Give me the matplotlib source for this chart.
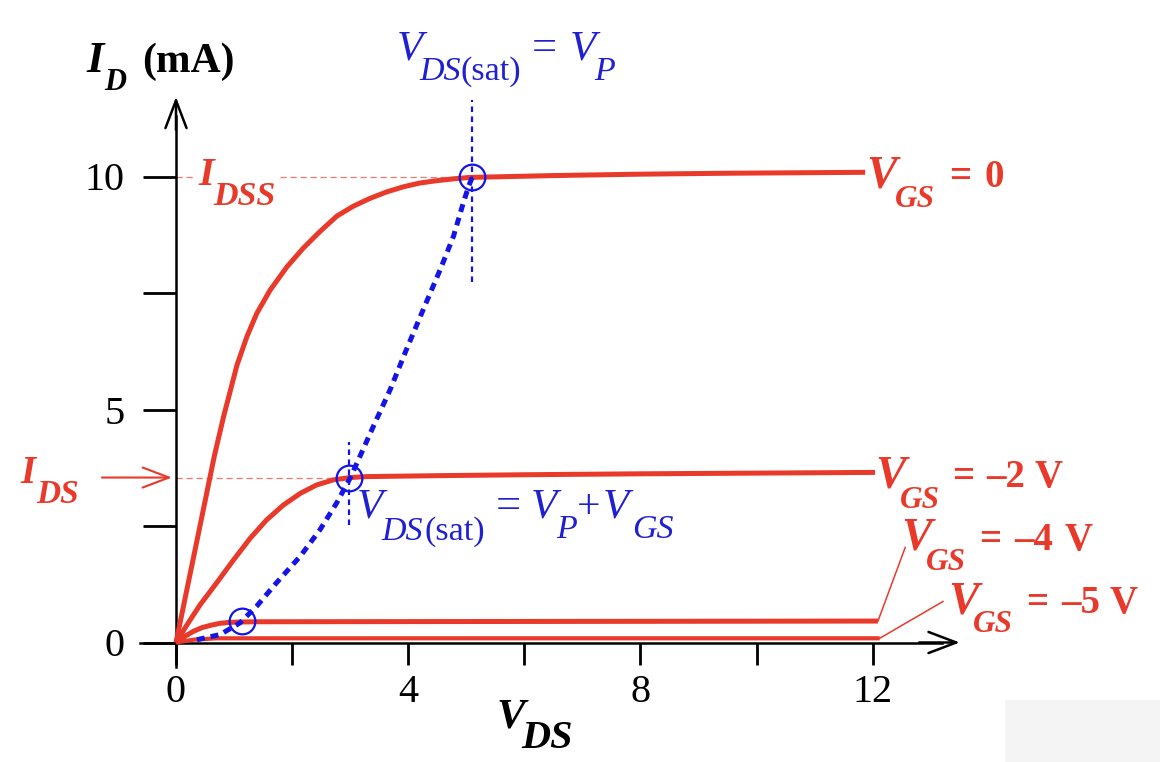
import matplotlib
matplotlib.use("Agg")
import matplotlib.pyplot as plt
from matplotlib.transforms import IdentityTransform
from matplotlib.patches import Rectangle

# ---------------- data ----------------
# V_GS = 0 V
vds_0 = [0, 0.38, 0.66, 0.82, 1.05, 1.22, 1.39, 1.62, 1.91, 2.19, 2.48, 2.77,
         3.05, 3.34, 3.63, 3.92, 4.20, 4.49, 4.78, 5.06, 6.5, 8.0, 9.5, 11.87]
id_0 = [0, 2.30, 4.00, 4.85, 5.95, 6.56, 7.06, 7.56, 8.06, 8.46, 8.82, 9.15,
        9.36, 9.53, 9.67, 9.78, 9.86, 9.91, 9.95, 9.98, 10.02, 10.05, 10.07, 10.09]
# V_GS = -2 V
vds_2 = [0, 0.20, 0.41, 0.70, 0.99, 1.28, 1.56, 1.85, 2.14, 2.42, 2.71, 3.00, 3.28,
         4.5, 6.0, 8.0, 10.0, 12.04]
id_2 = [0, 0.40, 0.80, 1.28, 1.77, 2.24, 2.63, 2.95, 3.20, 3.38, 3.49, 3.54, 3.56,
        3.58, 3.60, 3.62, 3.635, 3.65]
# V_GS = -4 V
vds_4 = [0, 0.15, 0.30, 0.45, 0.60, 0.75, 0.90, 1.10, 1.40, 12.09]
id_4 = [0, 0.13, 0.24, 0.32, 0.37, 0.41, 0.43, 0.44, 0.445, 0.46]
# V_GS = -5 V
vds_5 = [0, 0.30, 0.70, 12.12]
id_5 = [0, 0.06, 0.09, 0.09]
# saturation locus V_DS(sat) = V_P + V_GS
locus_vds = [0.36, 0.76, 1.10, 1.39, 1.73, 2.14, 2.48, 2.77, 3.00, 3.17, 3.40, 3.69,
             3.97, 4.26, 4.55, 4.78, 4.95, 5.04, 5.10]
locus_id = [0.06, 0.17, 0.42, 0.78, 1.28, 1.85, 2.42, 3.00, 3.53, 4.00, 4.64, 5.43,
            6.29, 7.15, 8.00, 8.72, 9.44, 9.79, 9.98]
# saturation points (V_GS = 0, -2, -4)
sat_vds = [5.10, 2.98, 1.13]
sat_id = [9.98, 3.54, 0.46]

x_ticks = [0, 2, 4, 6, 8, 10, 12]
x_ticklabels = ["0", "", "4", "", "8", "", "12"]
y_ticks = [0, 2.5, 5, 7.5, 10]
y_ticklabels = ["0", "", "5", "", "10"]

# ---------------- styling ----------------
RED = "#E8392A"
LRED = "#F07A70"
BLUE = "#1414E6"
TBLUE = "#2020D0"
SERIF = "Liberation Serif"

W, H = 1160, 762
fig = plt.figure(figsize=(W / 100, H / 100), dpi=100)
fig.patch.set_facecolor("white")
ax = fig.add_axes([0, 0, 1, 1])
ax.patch.set_alpha(0)

x0px, y0px = 176.0, 642.5
sx, sy = 58.06, 46.6
ax.set_xlim(-x0px / sx, (W - x0px) / sx)
ax.set_ylim(-(H - y0px) / sy, y0px / sy)

# faint grey patch at bottom right (slide artefact)
fig.patches.append(Rectangle((1005, 0), 155, 62, transform=IdentityTransform(),
                             facecolor="#f4f4f4", edgecolor="none", zorder=0))

# axes as arrows
for s in ["top", "right"]:
    ax.spines[s].set_visible(False)
ax.spines["left"].set_position(("data", 0))
ax.spines["bottom"].set_position(("data", 0))
ax.spines["left"].set_bounds(-0.52, 11.3)
ax.spines["bottom"].set_bounds(-0.62, 13.2)
for s in ["left", "bottom"]:
    ax.spines[s].set_linewidth(1.8)
    ax.spines[s].set_color("black")

arrow_head = "->,head_length=1.0,head_width=0.38"
ax.annotate("", xy=(0, 11.71), xytext=(0, 11.0),
            arrowprops=dict(arrowstyle=arrow_head, lw=1.8, color="black",
                            mutation_scale=20, shrinkA=0, shrinkB=0))
ax.annotate("", xy=(13.50, 0), xytext=(12.8, 0),
            arrowprops=dict(arrowstyle=arrow_head, lw=1.8, color="black",
                            mutation_scale=20, shrinkA=0, shrinkB=0))

ax.set_xticks(x_ticks)
ax.set_xticklabels(x_ticklabels)
ax.set_yticks(y_ticks)
ax.set_yticklabels(y_ticklabels)
ax.tick_params(axis="x", direction="out", length=15.8, width=2.0, pad=7,
               labelsize=29, colors="black")
ax.tick_params(axis="y", direction="out", length=23.8, width=2.0, pad=13,
               labelsize=29, colors="black")
for lab in ax.get_xticklabels() + ax.get_yticklabels():
    lab.set_family(SERIF)

# reference dashed lines
ax.plot([0, 0.33], [sat_id[0], sat_id[0]], color=LRED, lw=0.9, ls=(0, (5, 3)), zorder=2)
ax.plot([1.79, 4.90], [sat_id[0], sat_id[0]], color=LRED, lw=0.9, ls=(0, (5, 3)), zorder=2)
ax.plot([0, 2.80], [sat_id[1], sat_id[1]], color=LRED, lw=0.9, ls=(0, (5, 3)), zorder=2)

# curves
for xs, ys, w in [(vds_0, id_0, 3.6), (vds_2, id_2, 3.6), (vds_4, id_4, 3.6), (vds_5, id_5, 3.0)]:
    ax.plot(xs, ys, color=RED, lw=w, solid_capstyle="butt", solid_joinstyle="round", zorder=3)

# leader lines for V_GS = -4 and -5 labels
ax.plot([vds_4[-1], 12.56], [id_4[-1], 2.04], color=RED, lw=1.1, zorder=3)
ax.plot([vds_5[-1], 13.21], [id_5[-1], 0.88], color=RED, lw=1.1, zorder=3)

# saturation locus
ax.plot(locus_vds, locus_id, color=BLUE, lw=3.6, ls=(0, (1.6, 1.2)),
        dash_capstyle="butt", zorder=4)

# vertical dotted markers
ax.plot([sat_vds[0], sat_vds[0]], [7.73, 11.65], color=BLUE, lw=1.6, ls=(0, (2.5, 2)), zorder=4)
ax.plot([sat_vds[1], sat_vds[1]], [2.53, 4.31], color=BLUE, lw=1.6, ls=(0, (2.5, 2)), zorder=4)

# circles at saturation points
ax.plot(sat_vds, sat_id, ls="none", marker="o", ms=18.5, mfc="none", mec=BLUE, mew=1.6, zorder=5)

# I_DS arrow
ax.annotate("", xy=(-0.07, sat_id[1]), xytext=(-1.275, sat_id[1]),
            arrowprops=dict(arrowstyle=arrow_head, lw=1.5, color=RED,
                            mutation_scale=19, shrinkA=0, shrinkB=0))


# ---------------- texts ----------------
def put(x, base, s, size, color, style="italic", weight="bold"):
    fig.text(x, H - base, s, transform=IdentityTransform(), fontsize=size, color=color,
             fontstyle=style, fontweight=weight, family=SERIF, ha="left", va="baseline")


# y-axis title
put(86, 72, "I", 32, "black")
put(104, 90, "D", 22, "black")
put(142, 72, "(mA)", 30, "black", style="normal")

# x-axis title
put(496, 727, "V", 31, "black")
put(521, 748, "DS", 29, "black")

# I_DSS / I_DS
put(198, 185, "I", 29, RED)
put(213, 205, "DSS", 24.5, RED)
put(20, 483, "I", 28, RED)
put(36, 503, "DS", 24, RED)

# V_GS labels
put(866, 188, "V", 33, RED)
put(895, 207, "GS", 22.5, RED)
put(949, 187, "=", 28, RED, style="normal")
put(984, 187, "0", 28, RED, style="normal")

put(875, 488, "V", 33, RED)
put(900, 508, "GS", 22.5, RED)
put(952, 487, "=", 28, RED, style="normal")
put(986, 487, "\u20132", 28, RED, style="normal")
put(1035, 487, "V", 28, RED, style="normal")

put(901, 550, "V", 33, RED)
put(926, 570, "GS", 22.5, RED)
put(979, 550, "=", 28, RED, style="normal")
put(1014, 550, "\u20134", 28, RED, style="normal")
put(1065, 550, "V", 28, RED, style="normal")

put(948, 613, "V", 33, RED)
put(973, 632, "GS", 22.5, RED)
put(1026, 613, "=", 28, RED, style="normal")
put(1061, 613, "\u20135", 28, RED, style="normal")
put(1110, 613, "V", 28, RED, style="normal")

# blue annotations
put(397, 60, "V", 31, TBLUE, weight="normal")
put(419, 80, "DS", 24.5, TBLUE, weight="normal")
put(460, 80, "(sat)", 24.5, TBLUE, style="normal", weight="normal")
put(532, 60, "=", 32, TBLUE, style="normal", weight="normal")
put(570, 60, "V", 31, TBLUE, weight="normal")
put(594, 80, "P", 24.5, TBLUE, weight="normal")

put(357, 518, "V", 31, TBLUE, weight="normal")
put(381, 540, "DS", 24.5, TBLUE, weight="normal")
put(425, 540, "(sat)", 24.5, TBLUE, style="normal", weight="normal")
put(496, 518, "=", 32, TBLUE, style="normal", weight="normal")
put(531, 518, "V", 31, TBLUE, weight="normal")
put(556, 538, "P", 24.5, TBLUE, weight="normal")
put(577, 518, "+", 30, TBLUE, style="normal", weight="normal")
put(603, 518, "V", 31, TBLUE, weight="normal")
put(632, 538, "GS", 24.5, TBLUE, weight="normal")

fig.savefig("out.png", dpi=100)
